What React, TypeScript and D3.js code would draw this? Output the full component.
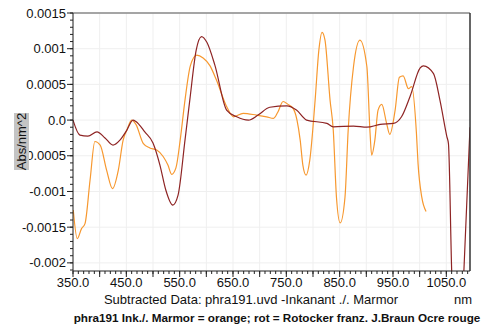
import React from "react";
import * as d3 from "d3";

const redNm = [350, 363, 378, 395, 410, 425, 438, 451, 462.5, 468, 485, 500, 513, 524, 537, 547, 560, 569, 581, 591, 601, 616, 638, 657, 679, 697, 719, 751, 769, 788, 826, 838, 876, 901, 926, 951, 966, 982, 1001, 1007, 1026, 1038, 1051, 1054, 1060, 1066, 1072, 1078, 1083, 1094.4];
const redVal = [0, -0.00021, -0.000224, -0.000164, -0.00025, -0.00035, -0.00028, -0.00014, 0.0, -0.00002, -0.00017, -0.00032, -0.00063, -0.00098, -0.00119, -0.00105, -0.00028, 0.00028, 0.00098, 0.00117, 0.00109, 0.00077, 0.00014, 0.000046, 0, 0.00007, 0.00018, 0.0002, 0.00014, 0, -0.000046, -0.000094, -0.000084, -0.0001, -0.00006, -0.000046, 0.000046, 0.00033, 0.00073, 0.00076, 0.00065, 0.00028, -0.00023, -0.00033, -0.0021, -0.0033, -0.0036, -0.0032, -0.0021, -0.0001];

const orangeNm = [350.5, 358, 366, 372.5, 382, 391, 401, 413, 424, 435, 444, 451, 460, 468, 482, 494, 507, 519, 528, 535, 543, 551, 560, 570, 582, 594, 607, 619, 638, 651, 669, 694, 713, 726, 734, 744, 753, 763, 770, 776, 781, 787, 794, 804, 811, 817, 822.5, 832, 838, 844, 851, 860, 866, 876, 888, 901, 907, 910, 916, 922, 929, 938, 944, 954, 962, 969, 979, 985, 994, 997, 1004, 1012];
const orangeVal = [-0.00126, -0.00166, -0.00152, -0.00145, -0.00084, -0.0003, -0.00035, -0.0007, -0.00096, -0.0007, -0.00028, -0.00014, 0, -0.00006, -0.00033, -0.00039, -0.00042, -0.00051, -0.00063, -0.00076, -0.00067, -0.00028, 0.00028, 0.00076, 0.00091, 0.00087, 0.00076, 0.00056, 0.00019, 0.000046, 0.000094, 0.00007, 0.000046, 0.000024, 0.00011, 0.00026, 0.00022, 0.00016, 0, -0.00028, -0.00063, -0.00077, -0.00056, 0.00028, 0.00098, 0.00123, 0.00112, 0.00028, -0.00014, -0.00108, -0.00144, -0.00108, -0.00014, 0.00075, 0.00112, 0.00075, -0.00018, -0.00049, -0.00028, 0.00014, 0.00022, -0.000046, -0.0002, 0.00014, 0.0006, 0.00062, 0.00044, 0.00047, -0.00019, -0.00061, -0.00108, -0.00128];

const yTickValues = [0.0015, 0.001, 0.0005, 0, -0.0005, -0.001, -0.0015, -0.002];
const yTickLabels = ["0.0015", "0.001", "0.0005", "0.0", "-0.0005", "-0.001", "-0.0015", "-0.002"];
const xLabelValues = [350, 450, 550, 650, 750, 850, 950, 1050];
const xTickLabels = ["350.0", "450.0", "550.0", "650.0", "750.0", "850.0", "950.0", "1050.0"];

const xLabelText = "Subtracted Data: phra191.uvd -Inkanant ./. Marmor";
const unitText = "nm";
const yLabelText = "Abs/nm^2";
const footText = "phra191 Ink./. Marmor = orange; rot = Rotocker franz. J.Braun Ocre rouge";

const FONT = "'Liberation Sans', Arial, Helvetica, sans-serif";

export default function App() {
  const W = 486, H = 327;
  const L = 73, R = 470, T = 13, B = 271;
  const x = d3.scaleLinear().domain([350, 1094.4]).range([L, R]);
  const y = d3.scaleLinear().domain([-0.002114, 0.0015]).range([B, T]);

  const line = d3.line<[number, number]>()
    .x(d => x(d[0]))
    .y(d => y(d[1]))
    .curve(d3.curveMonotoneX);

  const redPts = redNm.map((n, i) => [n, redVal[i]] as [number, number]);
  const orPts = orangeNm.map((n, i) => [n, orangeVal[i]] as [number, number]);

  const xMinor = d3.range(350, 1094, 10);
  const xMajor = d3.range(350, 1094, 50);
  const yMinor = d3.range(-21, 16, 1).map(v => v / 10000);

  return (
    <svg width={W} height={H} style={{ position: "absolute", left: 0, top: 0 }} fontFamily={FONT}>
      <defs>
        <clipPath id="plotclip">
          <rect x={L} y={T} width={R - L} height={B - T} />
        </clipPath>
      </defs>
      <rect x={0} y={0} width={W} height={H} fill="#fff" />
      {xMajor.map(v => (
        <line key={"gx" + v} x1={x(v)} x2={x(v)} y1={T} y2={B} stroke="#efefef" strokeWidth={1} />
      ))}
      {yTickValues.map(v => (
        <line key={"gy" + v} x1={L} x2={R} y1={y(v)} y2={y(v)} stroke="#efefef" strokeWidth={1} />
      ))}
      <g clipPath="url(#plotclip)" fill="none">
        <path d={line(orPts) || ""} stroke="#f7982f" strokeWidth={1.2} />
        <path d={line(redPts) || ""} stroke="#8e2424" strokeWidth={1.2} />
      </g>
      <line x1={L} x2={R} y1={T} y2={T} stroke="#8a8a8a" strokeWidth={1.5} />
      <line x1={R} x2={R} y1={T} y2={B} stroke="#333" strokeWidth={1.5} />
      <line x1={L} x2={L} y1={T} y2={B} stroke="#222" strokeWidth={1} />
      <line x1={L} x2={R} y1={B} y2={B} stroke="#222" strokeWidth={1} />
      {yMinor.map(v => (
        <line key={"ym" + v} x1={L - 3} x2={L} y1={y(v)} y2={y(v)} stroke="#222" strokeWidth={1} />
      ))}
      {yTickValues.map((v, i) => (
        <g key={"yt" + v}>
          <line x1={L - 6} x2={L} y1={y(v)} y2={y(v)} stroke="#222" strokeWidth={1} />
          <text x={L - 7} y={y(v)} dy="0.35em" textAnchor="end" fontSize={13} fill="#111">{yTickLabels[i]}</text>
        </g>
      ))}
      {xMinor.map(v => (
        <line key={"xm" + v} x1={x(v)} x2={x(v)} y1={B} y2={B + 3} stroke="#222" strokeWidth={1} />
      ))}
      {xMajor.map(v => (
        <line key={"xM" + v} x1={x(v)} x2={x(v)} y1={B} y2={B + 6} stroke="#222" strokeWidth={1} />
      ))}
      {xLabelValues.map((v, i) => (
        <text key={"xl" + v} x={x(v)} y={287} textAnchor="middle" fontSize={13} fill="#111">{xTickLabels[i]}</text>
      ))}
      <text x={251} y={304} textAnchor="middle" fontSize={13} fill="#111">{xLabelText}</text>
      <text x={463} y={304} textAnchor="middle" fontSize={13} fill="#111">{unitText}</text>
      <text x={277} y={322} textAnchor="middle" fontSize={11.7} fontWeight="bold" fill="#111">{footText}</text>
      <rect x={14} y={113} width={15} height={57} fill="#c4c4c4" />
      <text transform="translate(26,141.5) rotate(-90)" textAnchor="middle" fontSize={13} fill="#111">{yLabelText}</text>
    </svg>
  );
}
